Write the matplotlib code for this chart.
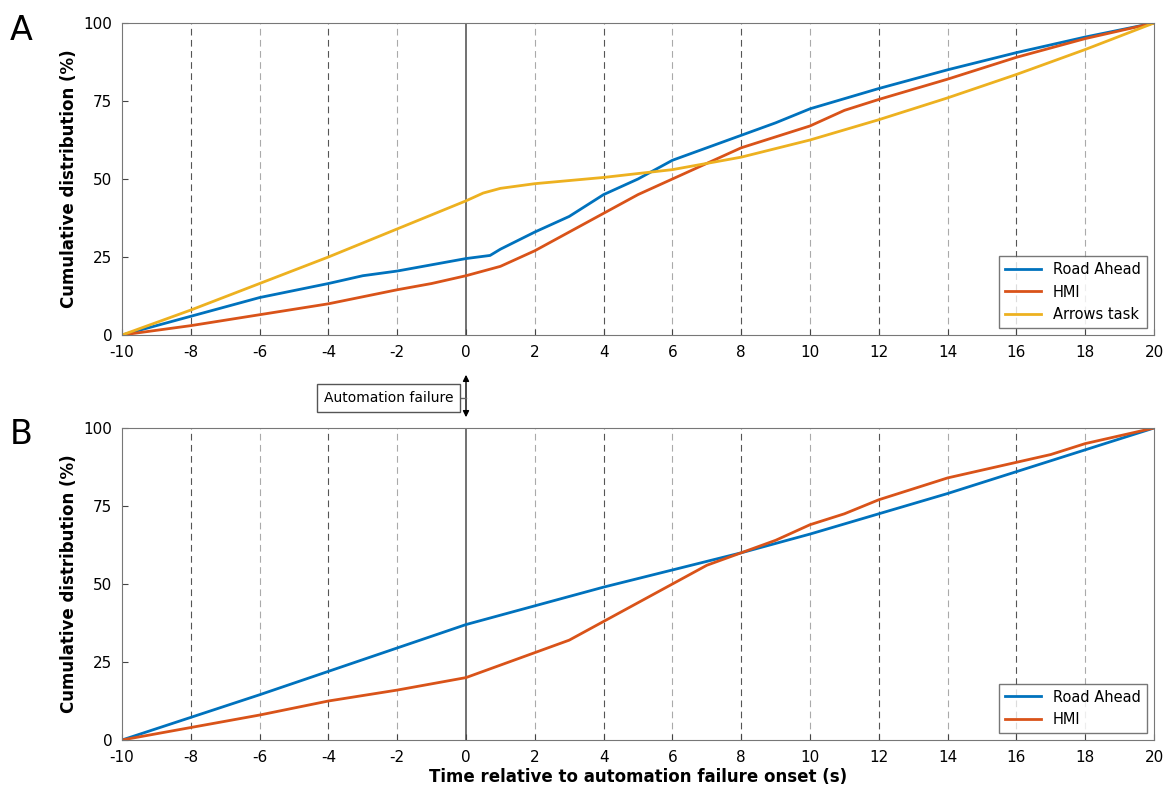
import numpy as np
import matplotlib
matplotlib.use("Agg")
import matplotlib.pyplot as plt

plt.rcParams["axes.unicode_minus"] = False

blue, orange, yellow = "#0072BD", "#D95319", "#EDB120"

ra_a_x = [-10, -8, -6, -4, -3, -2, -1, 0, 0.7, 1, 2, 3, 4, 5, 6, 7, 8, 9, 10, 12, 14, 16, 18, 20]
ra_a_y = [0, 6, 12, 16.5, 19, 20.5, 22.5, 24.5, 25.5, 27.5, 33, 38, 45, 50, 56, 60, 64, 68, 72.5, 79, 85, 90.5, 95.5, 100]
hmi_a_x = [-10, -8, -6, -4, -2, -1, 0, 1, 2, 3, 4, 5, 6, 7, 8, 10, 11, 12, 14, 16, 18, 20]
hmi_a_y = [0, 3, 6.5, 10, 14.5, 16.5, 19, 22, 27, 33, 39, 45, 50, 55, 60, 67, 72, 75.5, 82, 89, 95, 100]
arr_x = [-10, -8, -6, -4, -2, -1, 0, 0.5, 1, 2, 4, 6, 8, 10, 12, 14, 16, 18, 20]
arr_y = [0, 8, 16.5, 25, 34, 38.5, 43, 45.5, 47, 48.5, 50.5, 53, 57, 62.5, 69, 76, 83.5, 91.5, 100]

ra_b_x = [-10, -6, -4, -2, 0, 2, 4, 6, 8, 10, 12, 14, 16, 18, 20]
ra_b_y = [0, 14.5, 22, 29.5, 37, 43, 49, 54.5, 60, 66, 72.5, 79, 86, 93, 100]
hmi_b_x = [-10, -8, -6, -4, -2, 0, 0.5, 2, 3, 4, 6, 7, 8, 9, 10, 11, 12, 13, 14, 16, 17, 18, 20]
hmi_b_y = [0, 4, 8, 12.5, 16, 20, 22, 28, 32, 38, 50, 56, 60, 64, 69, 72.5, 77, 80.5, 84, 89, 91.5, 95, 100]

xticks = list(range(-10, 21, 2))

fig = plt.figure(figsize=(11.64, 7.95), dpi=100)
axA = fig.add_axes([122/1164, 1-335/795, 1032/1164, 312/795])
axB = fig.add_axes([122/1164, 1-740/795, 1032/1164, 312/795])

def style(ax):
    for x in range(-8, 20, 2):
        if x == 0:
            ax.axvline(0, color="#666666", lw=1.3, zorder=1)
        else:
            c = "#555555" if x % 4 == 0 else "#aaaaaa"
            ax.axvline(x, color=c, lw=0.8, ls=(0, (6, 4)), zorder=1)
    ax.set_xlim(-10, 20)
    ax.set_ylim(0, 100)
    ax.set_xticks(xticks)
    ax.set_yticks([0, 25, 50, 75, 100])
    ax.tick_params(labelsize=11, direction="in", length=4, color="#444444", pad=7)
    for s in ax.spines.values():
        s.set_color("#777777")
    ax.set_ylabel("Cumulative distribution (%)", fontsize=12, fontweight="bold")

style(axA)
axA.plot(ra_a_x, ra_a_y, color=blue, lw=2, label="Road Ahead")
axA.plot(hmi_a_x, hmi_a_y, color=orange, lw=2, label="HMI")
axA.plot(arr_x, arr_y, color=yellow, lw=2, label="Arrows task")
axA.legend(loc="lower right", fontsize=10.5, fancybox=False, edgecolor="#555555", handlelength=2.5)

style(axB)
axB.plot(ra_b_x, ra_b_y, color=blue, lw=2, label="Road Ahead")
axB.plot(hmi_b_x, hmi_b_y, color=orange, lw=2, label="HMI")
axB.legend(loc="lower right", fontsize=10.5, fancybox=False, edgecolor="#555555", handlelength=2.5)
axB.set_xlabel("Time relative to automation failure onset (s)", fontsize=12, fontweight="bold", labelpad=2)

fig.text(10/1164, 1-30/795, "A", fontsize=24, va="center")
fig.text(10/1164, 1-435/795, "B", fontsize=24, va="center")

# automation failure marker between panels
x0 = axA.transData.transform((0, 0))[0] / 1164
fig.add_artist(matplotlib.patches.FancyArrowPatch((x0, 1-372/795), (x0, 1-420/795), transform=fig.transFigure,
               arrowstyle="<|-|>", mutation_scale=9, color="black", lw=1))
fig.add_artist(matplotlib.lines.Line2D([x0 - 10/1164, x0], [1-398/795]*2, color="#666666", lw=1))
fig.text(x0 - 13/1164, 1-398/795, "Automation failure", ha="right", va="center", fontsize=10,
         bbox=dict(boxstyle="square,pad=0.5", fc="white", ec="#555555"))

fig.savefig("out.png")
